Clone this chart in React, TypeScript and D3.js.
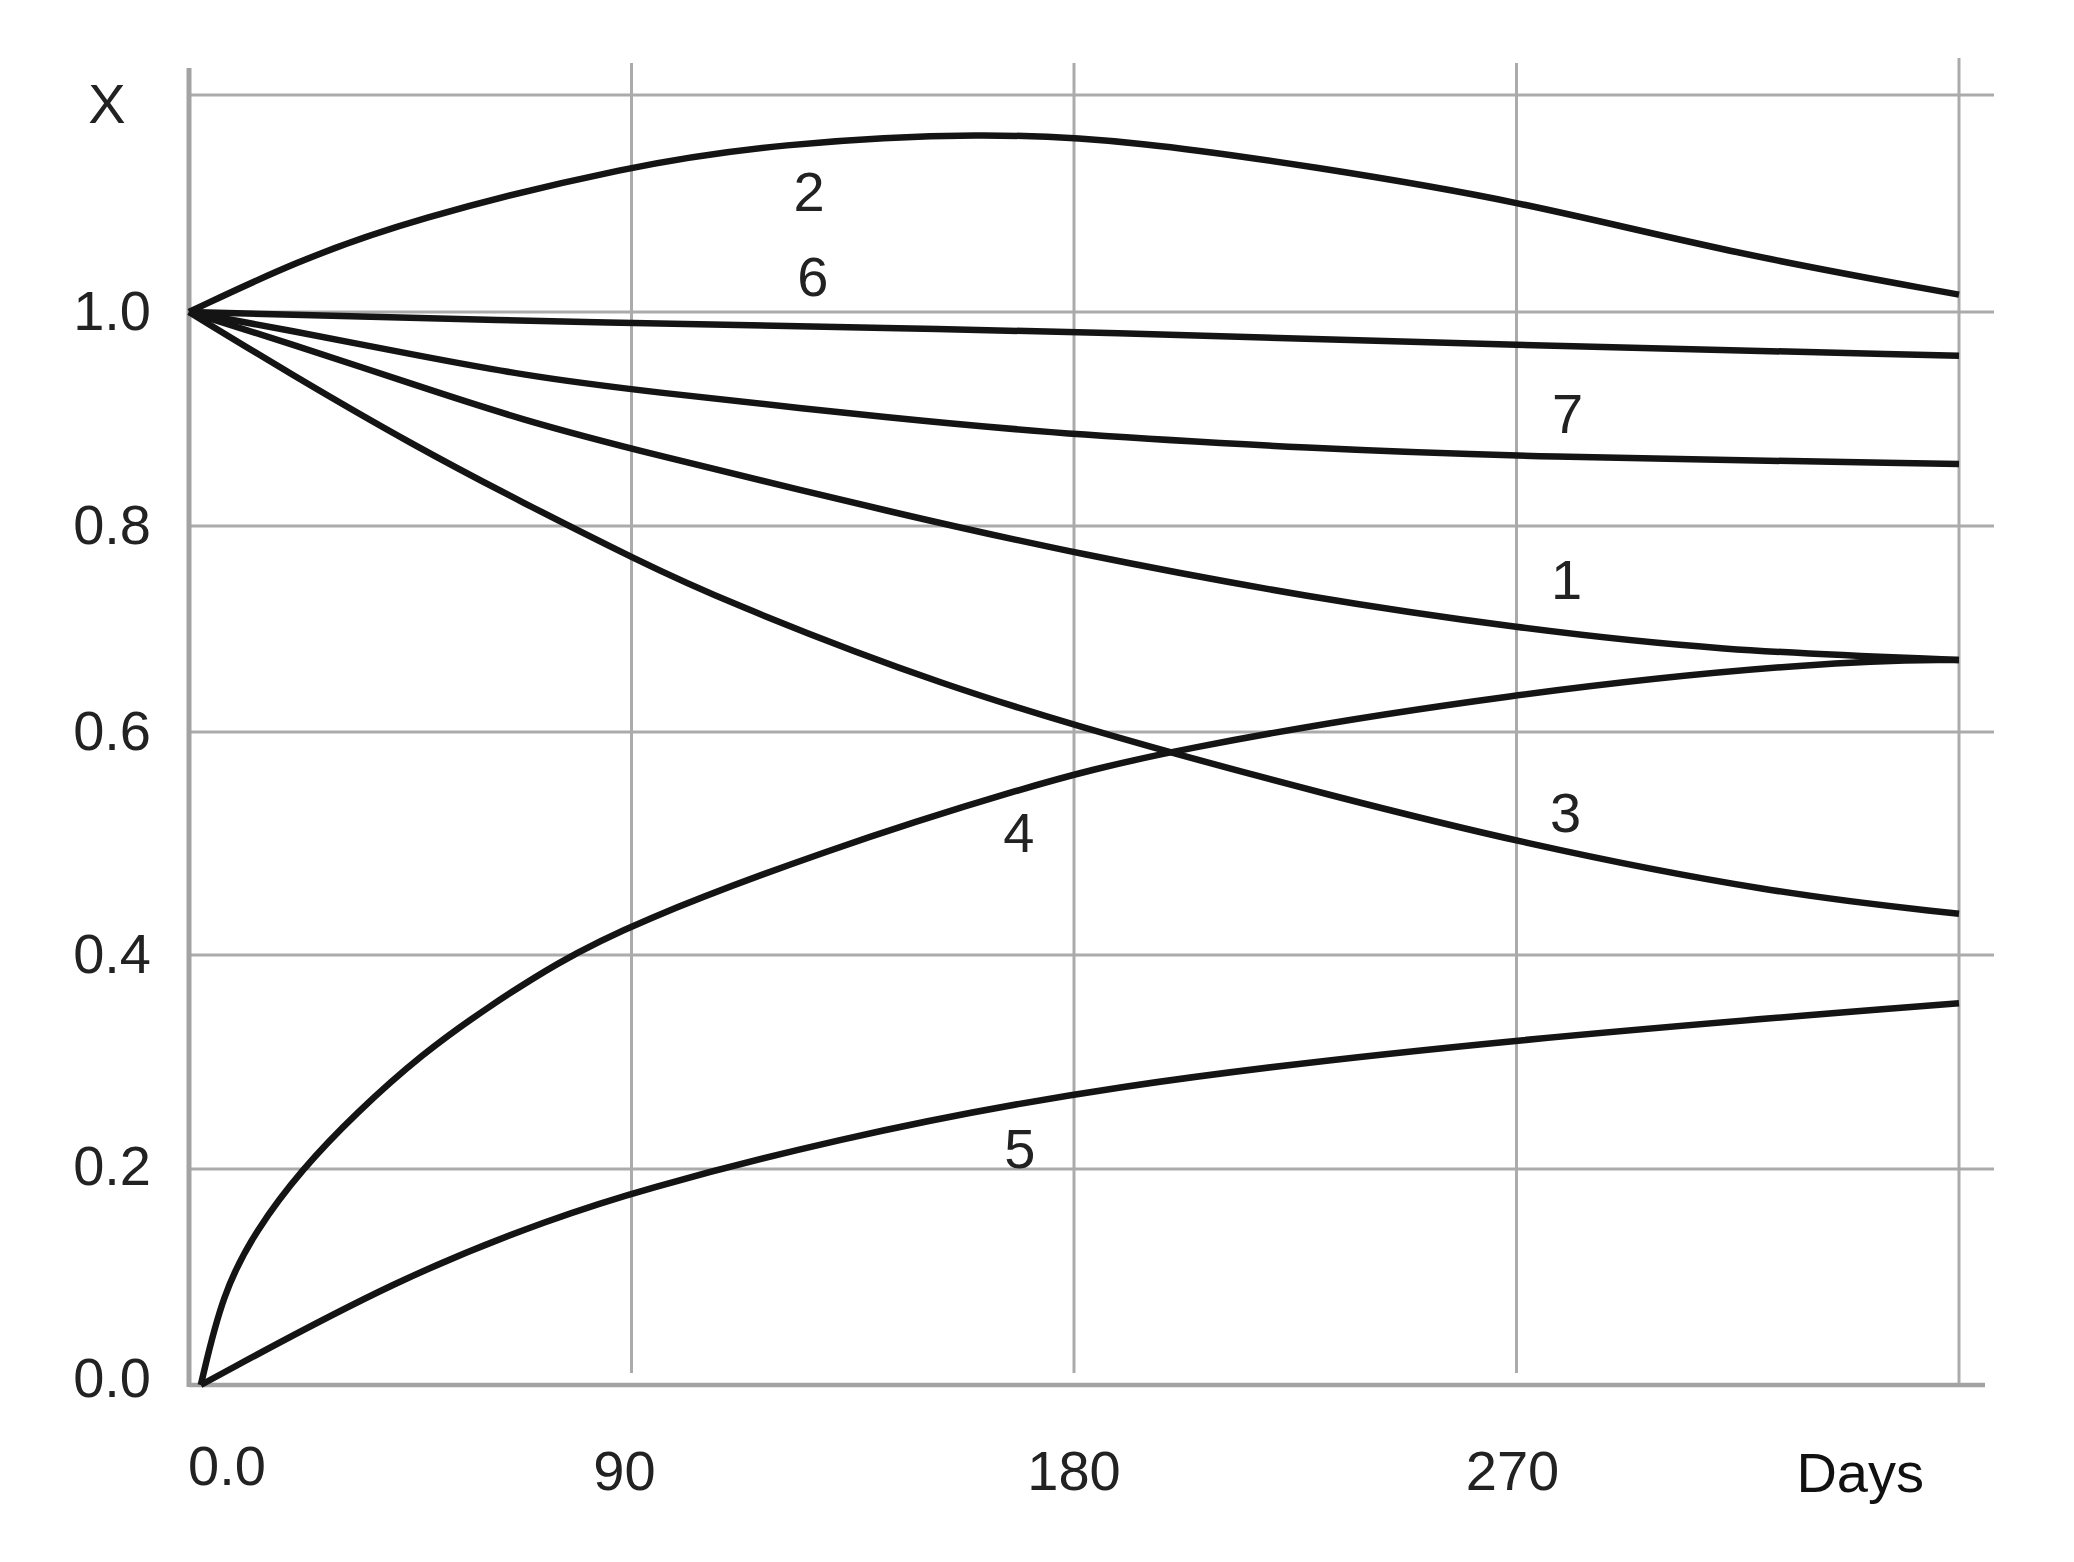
import React from "react";
import * as d3 from "d3";

// ---- data ----
const xTicks = [0, 90, 180, 270];
const xTickLabels = ["0.0", "90", "180", "270"];
const yTicks = [0, 0.2, 0.4, 0.6, 0.8, 1.0];
const yTickLabels = ["0.0", "0.2", "0.4", "0.6", "0.8", "1.0"];
const yGridExtra = [1.2];

const curve1: [number, number][] = [
  [0, 1.0], [20.3, 0.971], [45.8, 0.932], [67.8, 0.899], [91.5, 0.87], [144.6, 0.811],
  [180, 0.7735], [228.6, 0.7298], [270, 0.701], [310.8, 0.679], [360, 0.67],
];
const curve2: [number, number][] = [
  [0, 1.0], [21.5, 1.046], [44.9, 1.085], [90, 1.1355], [119.6, 1.155], [161.5, 1.166],
  [193.6, 1.157], [228.6, 1.134], [270, 1.103], [312.7, 1.055], [360, 1.016],
];
const curve3: [number, number][] = [
  [0, 1.0], [20.3, 0.943], [45.8, 0.875], [67.8, 0.822], [91.5, 0.766], [108, 0.729],
  [153.3, 0.644], [197.8, 0.5834], [231, 0.5445], [270, 0.501], [322.3, 0.455], [360, 0.437],
];
const curve4: [number, number][] = [
  [2.4, 0], [6.8, 0.085], [13.6, 0.1435], [23, 0.2], [33.9, 0.252], [47.5, 0.308],
  [61, 0.352], [74.6, 0.392], [90, 0.428], [129.4, 0.494], [168.8, 0.549],
  [197.8, 0.5834], [270, 0.639], [333.7, 0.669], [360, 0.67],
];
const curve5: [number, number][] = [
  [2.4, 0], [43, 0.1], [74.6, 0.1554], [91.5, 0.18], [129.4, 0.226], [185.3, 0.278],
  [270, 0.322], [360, 0.355],
];
const curve6: [number, number][] = [
  [0, 1.0], [91.5, 0.989], [144.6, 0.985], [180, 0.9816], [270, 0.969], [360, 0.959],
];
const curve7: [number, number][] = [
  [0, 1.0], [20.3, 0.983], [45.8, 0.96], [67.8, 0.941], [91.5, 0.9264], [144.6, 0.9],
  [180, 0.885], [228.6, 0.8726], [270, 0.8648], [360, 0.858],
];

const curves = [curve1, curve2, curve3, curve4, curve5, curve6, curve7];
const curveNames = ["1", "2", "3", "4", "5", "6", "7"];
const labelDays = [280.2, 126.1, 280, 168.8, 169, 126.9, 280.4];
const labelValues = [0.748, 1.111, 0.528, 0.51, 0.219, 1.0325, 0.9056];

const yAxisTitle = "X";
const xAxisTitle = "Days";

export default function App() {
  const W = 2074;
  const H = 1562;
  const x = d3.scaleLinear().domain([0, 360]).range([189, 1959]);
  const y = d3
    .scaleLinear()
    .domain([0, 0.2, 0.4, 0.6, 0.8, 1.0, 1.2])
    .range([1385, 1169, 955, 732, 526, 312, 95]);

  const line = d3
    .line<[number, number]>()
    .x((d) => x(d[0]))
    .y((d) => y(d[1]))
    .curve(d3.curveBasis);

  const font = "'Liberation Sans', Arial, sans-serif";
  const gridColor = "#ababab";
  const axisColor = "#a3a3a3";
  const textColor = "#222";

  return (
    <svg
      width={W}
      height={H}
      viewBox={`0 0 ${W} ${H}`}
      style={{ position: "absolute", left: 0, top: 0, background: "#fff" }}
    >
      <rect x={0} y={0} width={W} height={H} fill="#fff" />
      {/* horizontal gridlines */}
      {[...yTicks.filter((v) => v > 0), ...yGridExtra].map((v) => (
        <line key={"h" + v} x1={x(0)} x2={1994} y1={y(v)} y2={y(v)} stroke={gridColor} strokeWidth={3} />
      ))}
      {/* vertical gridlines */}
      {xTicks.filter((v) => v > 0).map((v) => (
        <line key={"v" + v} x1={x(v)} x2={x(v)} y1={63} y2={1373} stroke={gridColor} strokeWidth={3} />
      ))}
      <line x1={x(360)} x2={x(360)} y1={58} y2={y(0)} stroke={gridColor} strokeWidth={3} />
      {/* axes */}
      <line x1={x(0)} x2={x(0)} y1={68} y2={y(0) + 2} stroke={axisColor} strokeWidth={5} />
      <line x1={x(0)} x2={1985} y1={y(0)} y2={y(0)} stroke={axisColor} strokeWidth={4.5} />

      {/* curves */}
      {curves.map((c, i) => (
        <path
          key={"c" + i}
          d={line(c) || ""}
          fill="none"
          stroke="#141414"
          strokeWidth={6.5}
          strokeLinejoin="round"
          strokeLinecap="butt"
        />
      ))}

      {/* curve labels */}
      {curveNames.map((n, i) => (
        <text
          key={"l" + n}
          x={x(labelDays[i])}
          y={y(labelValues[i])}
          fontFamily={font}
          fontSize={56}
          fill={textColor}
          textAnchor="middle"
          dominantBaseline="central"
        >
          {n}
        </text>
      ))}

      {/* y tick labels */}
      {yTicks.map((v, i) => (
        <text
          key={"yt" + v}
          x={x(0) - 38}
          y={y(v) - (v === 0 ? 8 : v === 0.2 ? 4 : 2)}
          fontFamily={font}
          fontSize={56}
          fill={textColor}
          textAnchor="end"
          dominantBaseline="central"
        >
          {yTickLabels[i]}
        </text>
      ))}
      <text
        x={107}
        y={y(1.2) + 8}
        fontFamily={font}
        fontSize={56}
        fill={textColor}
        textAnchor="middle"
        dominantBaseline="central"
      >
        {yAxisTitle}
      </text>

      {/* x tick labels */}
      {xTicks.map((v, i) => (
        <text
          key={"xt" + v}
          x={v === 0 ? x(0) - 1 : x(v) - (v === 90 ? 7 : v === 270 ? 4 : 0)}
          y={v === 0 ? 1485 : 1490}
          fontFamily={font}
          fontSize={56}
          fill={textColor}
          textAnchor={v === 0 ? "start" : "middle"}
        >
          {xTickLabels[i]}
        </text>
      ))}
      <text x={x(360) - 35} y={1492} fontFamily={font} fontSize={56} fill="#111" textAnchor="end">
        {xAxisTitle}
      </text>
    </svg>
  );
}
